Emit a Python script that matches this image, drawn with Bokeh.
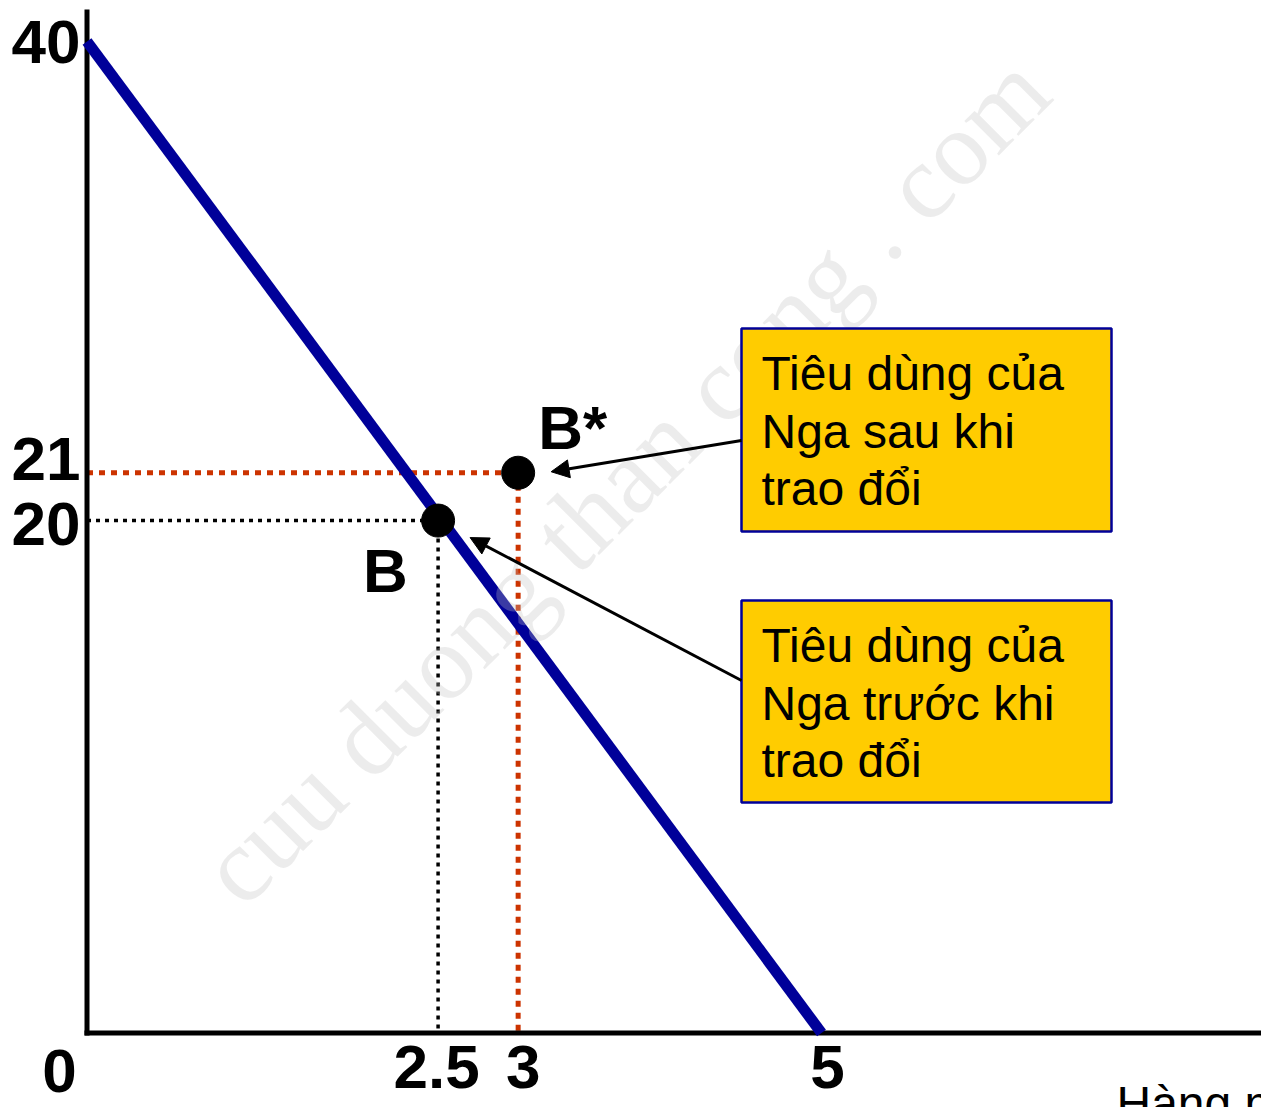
import math
from bokeh.plotting import figure
from bokeh.models import Range1d, Arrow, NormalHead
from bokeh.core.properties import value
from bokeh.embed import file_html
from bokeh.resources import INLINE

# ---------------- data (the drawing is schematic) ----------------
budget_x = [0, 5]
budget_y = [40, 0]
point_names = ["B", "B*"]
point_x = [2.39, 2.935]          # plotted positions of the consumption points
point_y = [20.67, 22.60]
x_tick_pos = [2.38, 2.97, 5.04]
x_tick_labels = ["2.5", "3", "5"]
y_label_pos = [39.03, 22.21, 19.58]
y_tick_labels = ["40", "21", "20"]
box_texts = [["Tiêu dùng của", "Nga sau khi", "trao đổi"],
             ["Tiêu dùng của", "Nga trước khi", "trao đổi"]]
x_axis_title = "Hàng may mặc"
origin_label = "0"
watermark = "cuu duong than cong . com"

# ---------------- geometry ----------------
W, H = 1261, 1107
X0, XU = 86.5, 146.9         # screen x of x=0, px per x unit
Y0, YU = 1032.5, 24.79       # screen y of y=0, px per y unit
BASE_FIX = 0.38              # text baseline correction (fraction of font size)

def rx(px):
    return (px - X0) / XU

def ry(py):
    return (Y0 - py) / YU

def up(font_px):
    return BASE_FIX * font_px / YU

p = figure(width=W, height=H, output_backend="svg", toolbar_location=None,
           x_range=Range1d(rx(0), rx(W)), y_range=Range1d(ry(H), ry(0)),
           min_border=0, x_axis_type=None, y_axis_type=None)
p.grid.visible = False
p.outline_line_color = None
p.background_fill_color = "white"
p.border_fill_color = "white"

FONT = value("Liberation Sans")
BIG = 62
SMALL = 48

# guide lines
p.line([0, point_x[0]], [point_y[0], point_y[0]], line_color="black", line_width=3.5, line_dash="4 5")
p.line([point_x[0], point_x[0]], [point_y[0], 0], line_color="black", line_width=3.5, line_dash="4 5")
p.line([0, point_x[1]], [point_y[1], point_y[1]], line_color="#CC3300", line_width=5, line_dash="6 6")
p.line([point_x[1], point_x[1]], [point_y[1], 0], line_color="#CC3300", line_width=5, line_dash="6 6")

# axes
p.line([0, 0], [ry(1035), ry(9)], line_color="black", line_width=5)
p.line([rx(84), rx(W)], [0, 0], line_color="black", line_width=5)

# budget line
p.line(budget_x, budget_y, line_color="#000099", line_width=11)

# points
p.scatter(point_x, point_y, size=33, color="black")

# watermark (semi-transparent, above the drawing)
p.text(x=[rx(624)], y=[ry(479)], text=[watermark], angle=math.pi / 4,
       text_font=value("Liberation Serif"), text_font_size="106px",
       text_color="#c0c0c0", text_alpha=0.3, text_align="center", text_baseline="middle")

# point labels
p.text(x=[point_x[0] - 75 / XU, point_x[1] + 20 / XU],
       y=[point_y[0] - 73 / YU + up(BIG), point_y[1] + 22 / YU + up(BIG)],
       text=point_names, text_font=FONT, text_font_style="bold", text_font_size=f"{BIG}px",
       text_color="black", text_align="left", text_baseline="alphabetic")

# tick labels
p.text(x=x_tick_pos, y=[ry(1090) + up(BIG)] * 3, text=x_tick_labels, text_font=FONT,
       text_font_style="bold", text_font_size=f"{BIG}px", text_color="black",
       text_align="center", text_baseline="alphabetic")
p.text(x=[rx(80)] * 3, y=[v + up(BIG) for v in y_label_pos], text=y_tick_labels, text_font=FONT,
       text_font_style="bold", text_font_size=f"{BIG}px", text_color="black",
       text_align="right", text_baseline="alphabetic")
p.text(x=[rx(59)], y=[ry(1094) + up(BIG)], text=[origin_label], text_font=FONT,
       text_font_style="bold", text_font_size=f"{BIG}px", text_color="black",
       text_align="center", text_baseline="alphabetic")
p.text(x=[rx(1116)], y=[ry(1121) + up(SMALL)], text=[x_axis_title], text_font=FONT,
       text_font_size=f"{SMALL}px", text_color="black", text_align="left", text_baseline="alphabetic")

# annotation boxes
box_left, box_right = rx(741), rx(1111)
box_tops = [ry(328), ry(600)]
box_bottoms = [ry(531), ry(802)]
p.quad(left=[box_left] * 2, right=[box_right] * 2, top=box_tops, bottom=box_bottoms,
       fill_color="#FFCC00", line_color="#000099", line_width=2.5)

for i, lines in enumerate(box_texts):
    top_px = Y0 - box_tops[i] * YU
    ys = [ry(top_px + 63.7 + k * 57.5) + up(SMALL) for k in range(len(lines))]
    p.text(x=[rx(761)] * len(lines), y=ys, text=lines, text_font=FONT,
           text_font_size=f"{SMALL}px", text_color="black", text_align="left",
           text_baseline="alphabetic")

# arrows from boxes to points
arrow_starts = [(box_left, ry(440)), (box_left, ry(680))]
arrow_tips = [(point_x[1] + 33 / XU, point_y[1] + 1 / YU), (point_x[0] + 32 / XU, point_y[0] - 17 / YU)]
for (xs, ys), (xe, ye) in zip(arrow_starts, arrow_tips):
    p.add_layout(Arrow(end=NormalHead(size=18, fill_color="black", line_color="black", line_width=1),
                       x_start=xs, y_start=ys, x_end=xe, y_end=ye,
                       line_color="black", line_width=3))

open("out.html", "w").write(file_html(p, INLINE))
